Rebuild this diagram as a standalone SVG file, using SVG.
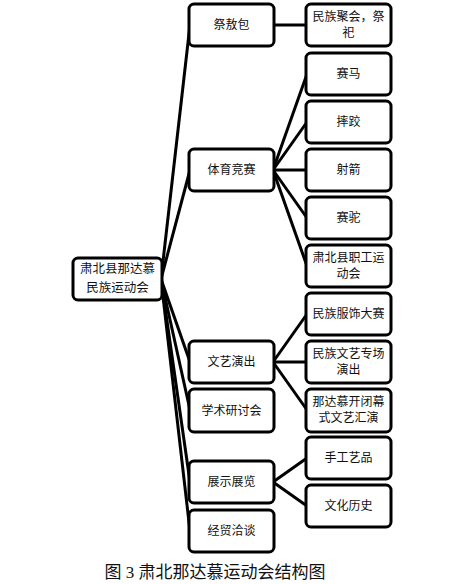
<svg xmlns="http://www.w3.org/2000/svg" width="458" height="584" viewBox="0 0 458 584">
<style>
.box{fill:#fff;stroke:#000;stroke-width:3}
.t{font-family:"Noto Sans CJK SC","Liberation Sans",sans-serif;font-size:12px;fill:#111;text-anchor:middle}
.r{font-size:12.5px}
.c line{stroke:#000;stroke-width:3}
</style>
<rect width="458" height="584" fill="#fff"/>
<g class="c" id="connectors">
<line x1="161" y1="279" x2="190" y2="25"/>
<line x1="161" y1="279" x2="190" y2="170"/>
<line x1="161" y1="279" x2="190" y2="362"/>
<line x1="161" y1="279" x2="190" y2="410"/>
<line x1="161" y1="279" x2="190" y2="482"/>
<line x1="161" y1="279" x2="190" y2="531"/>
<line x1="273" y1="25" x2="307" y2="25"/>
<line x1="273" y1="170" x2="307" y2="74"/>
<line x1="273" y1="170" x2="307" y2="122"/>
<line x1="273" y1="170" x2="307" y2="170"/>
<line x1="273" y1="170" x2="307" y2="218"/>
<line x1="273" y1="170" x2="307" y2="266"/>
<line x1="273" y1="362" x2="307" y2="314"/>
<line x1="273" y1="362" x2="307" y2="362"/>
<line x1="273" y1="362" x2="307" y2="410"/>
<line x1="273" y1="482" x2="307" y2="458"/>
<line x1="273" y1="482" x2="307" y2="506"/>
</g>
<g id="root"><rect class="box" x="73" y="258" width="89" height="42" rx="5"/><text class="t r" x="117.5" y="273">肃北县那达慕</text><text class="t r" x="117.5" y="292">民族运动会</text></g>
<g id="n1"><rect class="box" x="189" y="4" width="85" height="42" rx="5"/><text class="t" x="231.5" y="29">祭敖包</text></g>
<g id="n2"><rect class="box" x="189" y="149" width="85" height="42" rx="5"/><text class="t" x="231.5" y="174">体育竞赛</text></g>
<g id="n3"><rect class="box" x="189" y="341" width="85" height="42" rx="5"/><text class="t" x="231.5" y="366">文艺演出</text></g>
<g id="n4"><rect class="box" x="189" y="389" width="85" height="43" rx="5"/><text class="t" x="231.5" y="415">学术研讨会</text></g>
<g id="n5"><rect class="box" x="189" y="461" width="85" height="42" rx="5"/><text class="t" x="231.5" y="486">展示展览</text></g>
<g id="n6"><rect class="box" x="189" y="510" width="85" height="42" rx="5"/><text class="t" x="231.5" y="535">经贸洽谈</text></g>
<g id="m1"><rect class="box" x="306" y="4" width="85" height="42" rx="5"/><text class="t" x="348.5" y="21">民族聚会，祭</text><text class="t" x="348.5" y="37">祀</text></g>
<g id="m2"><rect class="box" x="306" y="53" width="85" height="42" rx="5"/><text class="t" x="348.5" y="78">赛马</text></g>
<g id="m3"><rect class="box" x="306" y="101" width="85" height="42" rx="5"/><text class="t" x="348.5" y="126">摔跤</text></g>
<g id="m4"><rect class="box" x="306" y="149" width="85" height="42" rx="5"/><text class="t" x="348.5" y="174">射箭</text></g>
<g id="m5"><rect class="box" x="306" y="197" width="85" height="42" rx="5"/><text class="t" x="348.5" y="222">赛驼</text></g>
<g id="m6"><rect class="box" x="306" y="245" width="85" height="42" rx="5"/><text class="t" x="348.5" y="262">肃北县职工运</text><text class="t" x="348.5" y="278">动会</text></g>
<g id="m7"><rect class="box" x="306" y="293" width="85" height="42" rx="5"/><text class="t" x="348.5" y="318">民族服饰大赛</text></g>
<g id="m8"><rect class="box" x="306" y="341" width="85" height="42" rx="5"/><text class="t" x="348.5" y="358">民族文艺专场</text><text class="t" x="348.5" y="374">演出</text></g>
<g id="m9"><rect class="box" x="306" y="389" width="85" height="43" rx="5"/><text class="t" x="348.5" y="406">那达慕开闭幕</text><text class="t" x="348.5" y="422">式文艺汇演</text></g>
<g id="m10"><rect class="box" x="306" y="437" width="85" height="42" rx="5"/><text class="t" x="348.5" y="462">手工艺品</text></g>
<g id="m11"><rect class="box" x="306" y="485" width="85" height="42" rx="5"/><text class="t" x="348.5" y="510">文化历史</text></g>
<text x="215" y="578" style="font-family:'Liberation Serif','Noto Sans CJK SC',serif;font-size:17px;fill:#111;text-anchor:middle">图 3 肃北那达慕运动会结构图</text>
</svg>
